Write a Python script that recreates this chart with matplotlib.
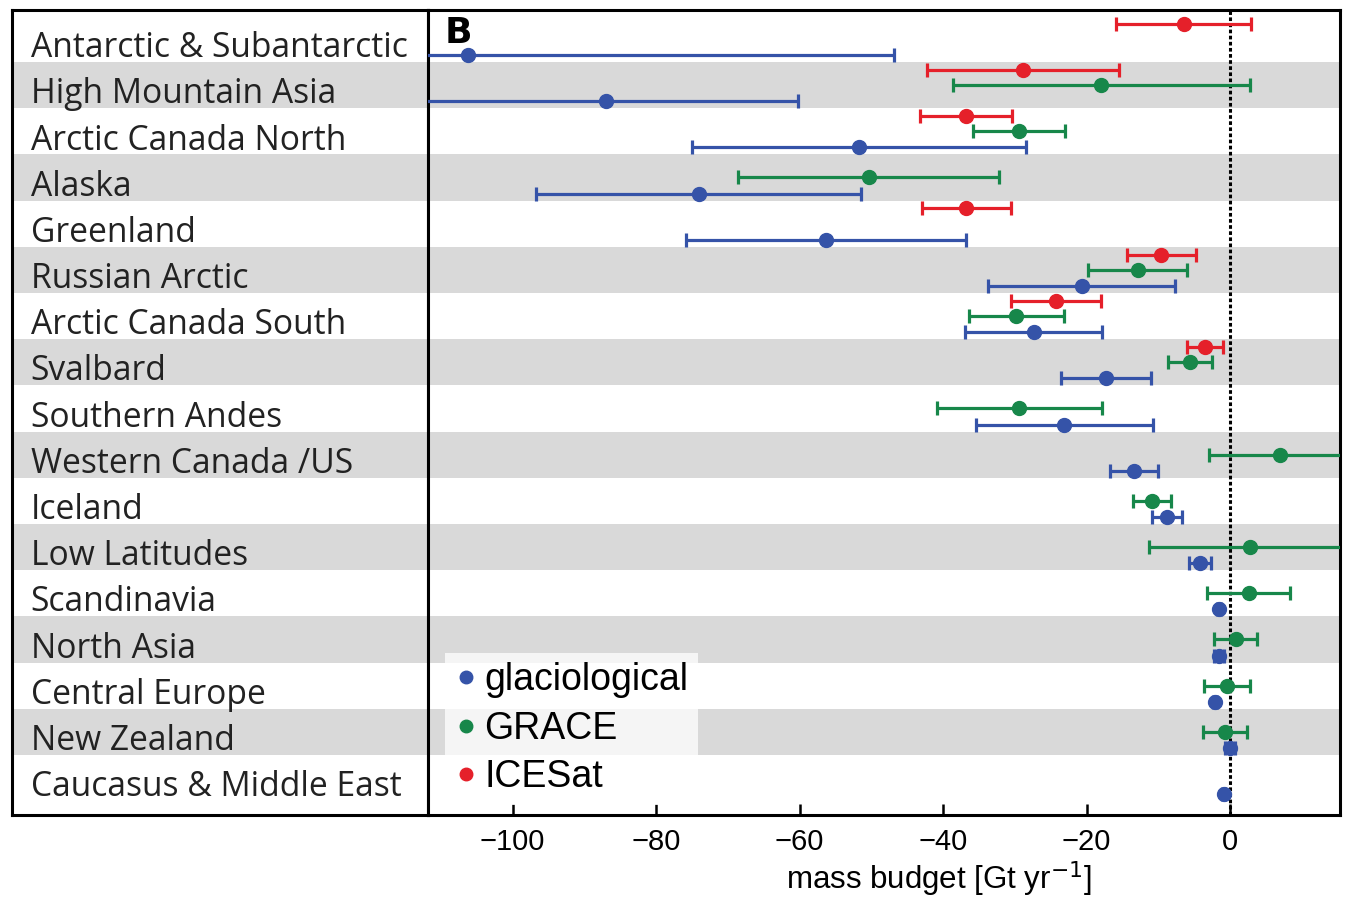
import matplotlib.pyplot as plt
import numpy as np
from matplotlib.lines import Line2D

nan = np.nan

regions = ["Antarctic & Subantarctic", "High Mountain Asia", "Arctic Canada North",
           "Alaska", "Greenland", "Russian Arctic", "Arctic Canada South", "Svalbard",
           "Southern Andes", "Western Canada /US", "Iceland", "Low Latitudes",
           "Scandinavia", "North Asia", "Central Europe", "New Zealand",
           "Caucasus & Middle East"]

# mass budget [Gt/yr] and error
glacio = [-106.2, -87.0, -51.7, -74.1, -56.3, -20.7, -27.4, -17.3, -23.1,
          -13.4, -8.8, -4.2, -1.6, -1.5, -2.1, 0.0, -0.9]
glacio_err = [59.3, 26.7, 23.3, 22.7, 19.5, 13.0, 9.6, 6.3, 12.3,
              3.4, 2.1, 1.5, 0.3, 0.7, 0.3, 0.7, 0.2]

grace = [nan, -18.0, -29.4, -50.4, nan, -12.9, -29.8, -5.6, -29.4,
         7.0, -10.9, 2.7, 2.6, 0.8, -0.4, -0.7, nan]
grace_err = [nan, 20.7, 6.4, 18.2, nan, 6.9, 6.6, 3.1, 11.5,
             10.0, 2.7, 14.0, 5.8, 3.0, 3.2, 3.1, nan]

icesat = [-6.5, -28.9, -36.8, nan, -36.8, -9.6, -24.3, -3.5, nan,
          nan, nan, nan, nan, nan, nan, nan, nan]
icesat_err = [9.4, 13.4, 6.4, nan, 6.2, 4.8, 6.3, 2.5, nan,
              nan, nan, nan, nan, nan, nan, nan, nan]

series = [
    ("glaciological", glacio, glacio_err, "#3553a8", 0.35),
    ("GRACE", grace, grace_err, "#17874a", 0.0),
    ("ICESat", icesat, icesat_err, "#e5202a", -0.33),
]

W, H = 1345, 901
fig = plt.figure(figsize=(W / 100, H / 100), dpi=100)
bottom = (H - 815) / H
height = 805 / H
ax_lab = fig.add_axes([12 / W, bottom, 416 / W, height])
ax = fig.add_axes([428 / W, bottom, 912 / W, height])

y = np.arange(len(regions))
for a in (ax_lab, ax):
    for k in y:
        if k % 2 == 1:
            a.axhspan(k - 0.5, k + 0.5, color="#d9d9d9", lw=0, zorder=0)
    a.set_ylim(16.8, -0.625)
    for s in a.spines.values():
        s.set_linewidth(2.2)

# region labels
ax_lab.set_xlim(0, 1)
ax_lab.set_xticks([])
ax_lab.set_yticks([])
for k, name in enumerate(regions):
    ax_lab.text(0.045, k + 0.2, name, va="center", ha="left",
                fontsize=24.2, family="Open Sans", color="#222222")

# data
ax.axvline(0, color="black", lw=2.2, ls=(0, (1.2, 0.8)), zorder=1)
for label, vals, errs, col, off in series:
    ax.errorbar(vals, y + off, xerr=errs, fmt="o", color=col, ms=10,
                elinewidth=2.3, capsize=5, capthick=2.3, zorder=3)

ax.set_xlim(-111.8, 15.3)
ax.set_yticks([])
ax.set_xticks([-100, -80, -60, -40, -20, 0])
ax.tick_params(axis="x", direction="in", length=8, width=1.8, labelsize=21, pad=9)
for t in ax.get_xticklabels():
    t.set_family("Liberation Sans")
ax.set_xlabel("mass budget [Gt yr$^{-1}$]", fontsize=22.5, family="Liberation Sans")
ax.xaxis.set_label_coords(0.56, -0.055)

ax.text(0.018, 0.972, "B", transform=ax.transAxes, fontsize=26,
        fontweight="bold", va="center", ha="left")

handles = [Line2D([], [], ls="none", marker="o", ms=9, color=c) for _, _, _, c, _ in series]
leg = ax.legend(handles, [s[0] for s in series], loc="upper left",
                bbox_to_anchor=(0.0186, 0.2012), borderaxespad=0, frameon=True,
                framealpha=0.75, edgecolor="none", fancybox=False,
                handletextpad=0.2, labelspacing=0.33, borderpad=0.25,
                handlelength=0.6, prop={"family": "Liberation Sans", "size": 27})

fig.savefig("out.png", dpi=100)
